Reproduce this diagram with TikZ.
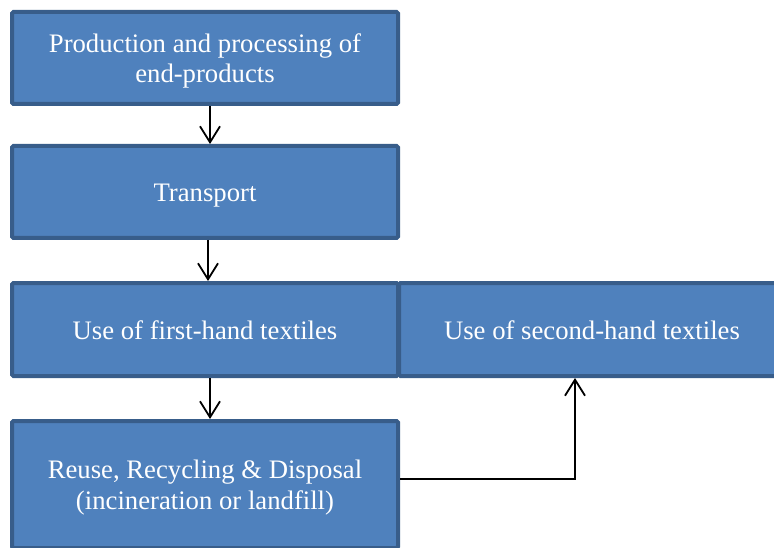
\documentclass[tikz,border=0pt]{standalone}
\usepackage{fontspec}
\setmainfont{Liberation Serif}
\usetikzlibrary{arrows.meta}
\definecolor{boxfill}{HTML}{4F81BD}
\definecolor{boxline}{HTML}{385D8A}
\newcommand{\boxtext}[1]{\raisebox{-3.5pt}[\height][\depth]{\begin{tabular}{@{}c@{}}#1\end{tabular}}}
\tikzset{
  flowbox/.style={draw=boxline, fill=boxfill, line width=4pt, rounded corners=1.5pt,
    text=white, align=center, inner sep=0pt, minimum width=386pt,
    font=\fontsize{26.7}{30.5}\selectfont},
  arr/.style={draw=black, line width=1.8pt, -{Straight Barb[length=16pt,width=20pt]}}
}
\begin{document}
\begin{tikzpicture}[x=1pt,y=-1pt]
\useasboundingbox (0,0) rectangle (774,548);
\node[flowbox, minimum height=92pt] (b1) at (205,58) {\boxtext{Production and processing of\\end-products}};
\node[flowbox, minimum height=92pt] (b2) at (205,192) {\boxtext{Transport}};
\node[flowbox, minimum height=93pt] (b3r) at (592,329.5) {\boxtext{Use of second-hand textiles}};
\node[flowbox, minimum height=93pt] (b3) at (205,329.5) {\boxtext{Use of first-hand textiles}};
\node[flowbox, minimum height=127pt] (b4) at (205,484.5) {\boxtext{Reuse, Recycling \& Disposal\\(incineration or landfill)}};
\draw[arr] ([xshift=5pt]b1.south) -- ([xshift=5pt]b2.north);
\draw[arr] ([xshift=3pt]b2.south) -- ([xshift=3pt]b3.north);
\draw[arr] ([xshift=5pt]b3.south) -- ([xshift=5pt]b4.north);
\draw[arr] ([yshift=5.5pt]b4.east) -| ([xshift=-17pt]b3r.south);
\end{tikzpicture}
\end{document}
